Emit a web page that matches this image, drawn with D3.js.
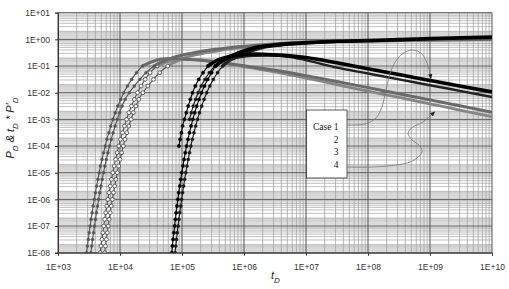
<!DOCTYPE html>
<html>
<head>
<meta charset="utf-8">
<style>
  body { margin: 0; background: #fff; }
  text { font-family: Arial, "Liberation Sans", sans-serif; }
</style>
<title>PD and derivative, cases 1-4</title>
</head>
<body>
<script src="https://cdn.jsdelivr.net/npm/d3@7/dist/d3.min.js"></script>
<script>
// ---- data: [tD, value] ----
var case1Deriv = [[2.88e3,1e-8],[2.98e3,1.78e-8],[3.08e3,3.16e-8],[3.18e3,5.62e-8],[3.30e3,1e-7],[3.42e3,1.78e-7],[3.55e3,3.16e-7],[3.69e3,5.62e-7],[3.85e3,1e-6],[4.01e3,1.78e-6],[4.20e3,3.16e-6],[4.40e3,5.62e-6],[4.61e3,1e-5],[4.85e3,1.78e-5],[5.13e3,3.16e-5],[5.43e3,5.62e-5],[5.77e3,1e-4],[6.15e3,1.78e-4],[6.59e3,3.16e-4],[7.10e3,5.62e-4],[7.69e3,1e-3],[8.39e3,1.78e-3],[9.23e3,3.16e-3],[1.03e4,5.62e-3],[1.15e4,0.01],[1.32e4,0.0178],[1.54e4,0.0316],[1.85e4,0.0562],[2.31e4,0.1],[3.16e4,0.141],[4.47e4,0.178],[7.08e4,0.191],[1.12e5,0.182],[2.0e5,0.166],[3.55e5,0.141],[1e6,0.102],[3.16e6,0.0692],[1e7,0.0437],[3.16e7,0.0263],[1e8,0.0155],[3.16e8,0.00912],[1e9,0.00537],[3.16e9,0.00316],[1e10,0.00186]];
var case1PD = [[3.39e3,1e-8],[3.50e3,1.78e-8],[3.61e3,3.16e-8],[3.74e3,5.62e-8],[3.87e3,1e-7],[4.02e3,1.78e-7],[4.17e3,3.16e-7],[4.34e3,5.62e-7],[4.52e3,1e-6],[4.71e3,1.78e-6],[4.93e3,3.16e-6],[5.16e3,5.62e-6],[5.42e3,1e-5],[5.70e3,1.78e-5],[6.03e3,3.16e-5],[6.38e3,5.62e-5],[6.78e3,1e-4],[7.23e3,1.78e-4],[7.74e3,3.16e-4],[8.34e3,5.62e-4],[9.04e3,1e-3],[9.86e3,1.78e-3],[1.08e4,3.16e-3],[1.21e4,5.62e-3],[1.41e4,0.01],[1.70e4,0.0178],[2.09e4,0.0316],[2.63e4,0.0562],[3.55e4,0.1],[5.25e4,0.158],[7.94e4,0.224],[1.58e5,0.316],[2.82e5,0.398],[6.31e5,0.501],[2.0e6,0.631],[1e7,0.776],[3.16e7,0.832],[1e8,0.871],[3.16e8,0.912],[1e9,0.944],[3.16e9,0.977],[1e10,1.01]];
var case2Deriv = [[4.79e3,1e-8],[4.94e3,1.78e-8],[5.11e3,3.16e-8],[5.28e3,5.62e-8],[5.47e3,1e-7],[5.67e3,1.78e-7],[5.89e3,3.16e-7],[6.12e3,5.62e-7],[6.38e3,1e-6],[6.65e3,1.78e-6],[6.97e3,3.16e-6],[7.29e3,5.62e-6],[7.66e3,1e-5],[8.05e3,1.78e-5],[8.51e3,3.16e-5],[9.02e3,5.62e-5],[9.57e3,1e-4],[1.021e4,1.78e-4],[1.094e4,3.16e-4],[1.178e4,5.62e-4],[1.276e4,1e-3],[1.393e4,1.78e-3],[1.531e4,3.16e-3],[1.702e4,5.62e-3],[1.914e4,0.01],[2.188e4,0.0178],[2.553e4,0.0316],[3.06e4,0.0562],[3.98e4,0.1],[5.62e4,0.141],[8.91e4,0.170],[1.26e5,0.178],[2.0e5,0.170],[3.55e5,0.148],[1e6,0.0955],[3.16e6,0.0603],[1e7,0.0355],[3.16e7,0.0200],[1e8,0.0115],[3.16e8,0.00661],[1e9,0.00380],[3.16e9,0.00219],[1e10,0.00126]];
var case2PD = [[5.65e3,1e-8],[5.83e3,1.78e-8],[6.03e3,3.16e-8],[6.24e3,5.62e-8],[6.46e3,1e-7],[6.70e3,1.78e-7],[6.95e3,3.16e-7],[7.23e3,5.62e-7],[7.53e3,1e-6],[7.85e3,1.78e-6],[8.22e3,3.16e-6],[8.61e3,5.62e-6],[9.04e3,1e-5],[9.51e3,1.78e-5],[1.005e4,3.16e-5],[1.064e4,5.62e-5],[1.13e4,1e-4],[1.205e4,1.78e-4],[1.29e4,3.16e-4],[1.39e4,5.62e-4],[1.51e4,1e-3],[1.64e4,1.78e-3],[1.81e4,3.16e-3],[2.01e4,5.62e-3],[2.34e4,0.01],[2.82e4,0.0178],[3.47e4,0.0316],[4.37e4,0.0562],[5.89e4,0.1],[8.51e4,0.158],[1.26e5,0.224],[2.51e5,0.316],[4.47e5,0.398],[1e6,0.501],[3.16e6,0.631],[1e7,0.741],[3.16e7,0.804],[1e8,0.851],[3.16e8,0.891],[1e9,0.923],[3.16e9,0.955],[1e10,0.98]];
var case3PD = [[6.82e4,1e-8],[7.00e4,1.78e-8],[7.18e4,3.16e-8],[7.38e4,5.62e-8],[7.59e4,1e-7],[7.81e4,1.78e-7],[8.05e4,3.16e-7],[8.30e4,5.62e-7],[8.57e4,1e-6],[8.87e4,1.78e-6],[9.20e4,3.16e-6],[9.55e4,5.62e-6],[9.93e4,1e-5],[1.035e5,1.78e-5],[1.080e5,3.16e-5],[1.130e5,5.62e-5],[1.186e5,1e-4],[1.250e5,1.78e-4],[1.321e5,3.16e-4],[1.402e5,5.62e-4],[1.493e5,1e-3],[1.603e5,1.78e-3],[1.728e5,3.16e-3],[1.879e5,5.62e-3],[2.065e5,0.01],[2.301e5,0.0178],[2.600e5,0.0316],[3.01e5,0.0562],[3.47e5,0.1],[4.47e5,0.158],[5.89e5,0.224],[8.32e5,0.316],[1.10e6,0.398],[1.58e6,0.501],[2.82e6,0.603],[6.31e6,0.708],[1.58e7,0.794],[3.16e7,0.851],[1e8,0.912],[3.16e8,0.977],[1e9,1.072],[3.16e9,1.148],[1e10,1.230]];
var case4PD = [[7.71e4,1e-8],[7.93e4,1.78e-8],[8.15e4,3.16e-8],[8.39e4,5.62e-8],[8.65e4,1e-7],[8.91e4,1.78e-7],[9.20e4,3.16e-7],[9.53e4,5.62e-7],[9.86e4,1e-6],[1.021e5,1.78e-6],[1.062e5,3.16e-6],[1.104e5,5.62e-6],[1.151e5,1e-5],[1.202e5,1.78e-5],[1.259e5,3.16e-5],[1.321e5,5.62e-5],[1.390e5,1e-4],[1.469e5,1.78e-4],[1.560e5,3.16e-4],[1.660e5,5.62e-4],[1.778e5,1e-3],[1.914e5,1.78e-3],[2.075e5,3.16e-3],[2.270e5,5.62e-3],[2.506e5,0.01],[2.805e5,0.0178],[3.20e5,0.0316],[3.74e5,0.0562],[4.52e5,0.1],[5.75e5,0.158],[7.94e5,0.224],[1.12e6,0.316],[1.48e6,0.398],[2.14e6,0.501],[3.80e6,0.603],[8.91e6,0.708],[1.78e7,0.776],[3.16e7,0.832],[1e8,0.891],[3.16e8,0.944],[1e9,1.023],[3.16e9,1.096],[1e10,1.16]];
var case3Deriv = [[8.91e4,1e-4],[9.33e4,1.78e-4],[9.77e4,3.16e-4],[1.023e5,5.62e-4],[1.096e5,1e-3],[1.175e5,1.78e-3],[1.259e5,3.16e-3],[1.365e5,5.62e-3],[1.479e5,0.01],[1.641e5,0.0178],[1.862e5,0.0316],[2.188e5,0.0562],[2.630e5,0.1],[3.55e5,0.158],[5.62e5,0.224],[1e6,0.269],[1.58e6,0.282],[3.16e6,0.263],[1e7,0.209],[3.16e7,0.132],[1e8,0.0794],[3.16e8,0.0479],[1e9,0.0288],[3.16e9,0.0174],[1e10,0.0107]];
var case4Deriv = [[1.318e5,1e-3],[1.413e5,1.78e-3],[1.514e5,3.16e-3],[1.660e5,5.62e-3],[1.820e5,0.01],[2.042e5,0.0178],[2.344e5,0.0316],[2.754e5,0.0562],[3.388e5,0.1],[4.68e5,0.158],[7.94e5,0.209],[1.41e6,0.240],[2.51e6,0.245],[5.62e6,0.219],[1e7,0.166],[3.16e7,0.0871],[1e8,0.0525],[3.16e8,0.0316],[1e9,0.0191],[3.16e9,0.0115],[1e10,0.00692]];

// leader lines from the legend box to the curves, in [tD, value]
var leader1 = [[4.58e7,6.15e-4],[8.95e7,6.71e-4],[1.35e8,1.13e-3],[1.68e8,2.91e-3],[1.95e8,1.26e-2],[2.44e8,8.45e-2],[3.53e8,0.282],[5.32e8,0.399],[7.43e8,0.282],[9.29e8,0.100],[1.04e9,0.0327]];
var leader2 = [[4.58e7,1.64e-5],[1.21e8,1.64e-5],[4.26e8,2.31e-5],[6.17e8,3.56e-5],[7.43e8,5.98e-5],[6.90e8,1.0e-4],[5.13e8,1.69e-4],[4.42e8,3.08e-4],[5.32e8,5.18e-4],[7.71e8,7.98e-4],[1.0e9,1.34e-3],[1.21e9,1.97e-3]];

var xTicks = [1e3,1e4,1e5,1e6,1e7,1e8,1e9,1e10];
var xTickLabels = ["1E+03","1E+04","1E+05","1E+06","1E+07","1E+08","1E+09","1E+10"];
var yTicks = [1e-8,1e-7,1e-6,1e-5,1e-4,1e-3,1e-2,1e-1,1,10];
var yTickLabels = ["1E-08","1E-07","1E-06","1E-05","1E-04","1E-03","1E-02","1E-01","1E+00","1E+01"];
var legendLabels = ["Case 1","2","3","4"];

// ---- layout ----
var w = 509, h = 289;
var margin = {top: 12.7, right: 17, bottom: 36.3, left: 58};

var x = d3.scaleLog().domain([1e3, 1e10]).range([margin.left, w - margin.right]);
var y = d3.scaleLog().domain([1e-8, 10]).range([h - margin.bottom, margin.top]);

var svg = d3.select("body").append("svg")
    .attr("width", w).attr("height", h);

svg.append("defs").append("clipPath").attr("id", "plot")
  .append("rect")
    .attr("x", margin.left).attr("y", margin.top)
    .attr("width", w - margin.left - margin.right)
    .attr("height", h - margin.top - margin.bottom);

var arrow = svg.select("defs").append("marker")
    .attr("id", "arrow")
    .attr("markerUnits", "userSpaceOnUse")
    .attr("markerWidth", 6).attr("markerHeight", 6)
    .attr("refX", 5).attr("refY", 3)
    .attr("orient", "auto");
arrow.append("path").attr("d", "M0,0.8 L5,3 L0,5.2 z").attr("fill", "#222");

// grid
var grid = svg.append("g").attr("id", "grid");
var x0 = margin.left, x1 = w - margin.right, y0 = h - margin.bottom, y1 = margin.top;

// horizontal: 1.1..1.9 and 2..9 in every decade
for (var e = -8; e < 1; e++) {
  var base = Math.pow(10, e);
  [1.1,1.2,1.3,1.4,1.5,1.6,1.7,1.8,1.9].forEach(function(k) {
    grid.append("line").attr("x1", x0).attr("x2", x1)
      .attr("y1", y(k * base)).attr("y2", y(k * base))
      .attr("stroke", "#c6c6c6").attr("stroke-width", 0.7);
  });
  [2,3,4,5,6,7,8,9].forEach(function(k) {
    grid.append("line").attr("x1", x0).attr("x2", x1)
      .attr("y1", y(k * base)).attr("y2", y(k * base))
      .attr("stroke", "#aaa").attr("stroke-width", 0.75);
  });
}
// vertical: 2..9 in every decade
for (var e2 = 3; e2 < 10; e2++) {
  var b2 = Math.pow(10, e2);
  [2,3,4,5,6,7,8,9].forEach(function(k) {
    grid.append("line").attr("y1", y0).attr("y2", y1)
      .attr("x1", x(k * b2)).attr("x2", x(k * b2))
      .attr("stroke", "#a4a4a4").attr("stroke-width", 0.8);
  });
}
// major lines
yTicks.forEach(function(v) {
  grid.append("line").attr("x1", x0).attr("x2", x1)
    .attr("y1", y(v)).attr("y2", y(v))
    .attr("stroke", "#555").attr("stroke-width", 1);
});
xTicks.forEach(function(v) {
  grid.append("line").attr("y1", y0).attr("y2", y1)
    .attr("x1", x(v)).attr("x2", x(v))
    .attr("stroke", "#555").attr("stroke-width", 1);
});

// series
var series = [
  {data: case2Deriv, color: "#505050", open: true,  r: 1.9, band: 2.8, bandColor: "#858585"},
  {data: case2PD,    color: "#505050", open: true,  r: 1.9, band: 2.8, bandColor: "#858585"},
  {data: case1Deriv, color: "#555",    open: false, r: 1.5, band: 3,   bandColor: "#6a6a6a"},
  {data: case1PD,    color: "#555",    open: false, r: 1.5, band: 3,   bandColor: "#6a6a6a"},
  {data: case4Deriv, color: "#1a1a1a", open: false, r: 1.6, band: 2.4, bandColor: "#222"},
  {data: case4PD,    color: "#1a1a1a", open: false, r: 1.6, band: 3,   bandColor: "#222"},
  {data: case3Deriv, color: "#000",    open: false, r: 1.7, band: 3.6, bandColor: "#000"},
  {data: case3PD,    color: "#000",    open: false, r: 1.7, band: 3.6, bandColor: "#000"}
];

var line = d3.line()
    .x(function(d) { return x(d[0]); })
    .y(function(d) { return y(d[1]); })
    .curve(d3.curveMonotoneX);

var curves = svg.append("g").attr("clip-path", "url(#plot)");

series.forEach(function(s) {
  var g = curves.append("g");
  g.append("path").attr("d", line(s.data))
    .attr("fill", "none").attr("stroke", s.color).attr("stroke-width", 1.1);
  // the flat part of each curve is drawn as a thick band
  var start = s.data.findIndex(function(d) { return d[1] >= 0.1; });
  g.append("path").attr("d", line(s.data.slice(start)))
    .attr("fill", "none").attr("stroke", s.bandColor).attr("stroke-width", s.band);
  g.selectAll("circle").data(s.data.slice(0, start + 1)).enter().append("circle")
    .attr("cx", function(d) { return x(d[0]); })
    .attr("cy", function(d) { return y(d[1]); })
    .attr("r", s.r)
    .attr("fill", s.open ? "#fff" : s.color)
    .attr("stroke", s.color)
    .attr("stroke-width", s.open ? 0.9 : 0.4);
});

// axes
var xAxis = d3.axisBottom(x).tickValues(xTicks)
    .tickFormat(function(d, i) { return xTickLabels[i]; })
    .tickSize(3).tickPadding(8);
var gx = svg.append("g").attr("transform", "translate(0," + y0 + ")").call(xAxis);

var yAxis = d3.axisLeft(y).tickValues(yTicks)
    .tickFormat(function(d, i) { return yTickLabels[i]; })
    .tickSize(3).tickPadding(5);
var gy = svg.append("g").attr("transform", "translate(" + x0 + ",0)").call(yAxis);

[gx, gy].forEach(function(g) {
  g.select(".domain").attr("stroke", "#333");
  g.selectAll(".tick line").attr("stroke", "#333");
  g.selectAll(".tick text").attr("fill", "#333")
    .style("font-family", "Arial, 'Liberation Sans', sans-serif").style("font-size", "8.5px");
});

// axis titles
var xt = svg.append("text").attr("x", 271).attr("y", 279)
    .style("font-style", "italic").style("font-size", "11px").attr("fill", "#222");
xt.append("tspan").text("t");
xt.append("tspan").attr("dy", 4).style("font-size", "8px").text("D");

var yt = svg.append("text")
    .attr("transform", "translate(14,128) rotate(-90)")
    .attr("text-anchor", "middle")
    .style("font-style", "italic").style("font-size", "11px").attr("fill", "#222");
yt.append("tspan").text("P");
yt.append("tspan").attr("dy", 3.5).style("font-size", "8px").text("D");
yt.append("tspan").attr("dy", -3.5).text(" & t");
yt.append("tspan").attr("dy", 3.5).style("font-size", "8px").text("D");
yt.append("tspan").attr("dy", -3.5).text(" * P'");
yt.append("tspan").attr("dy", 3.5).style("font-size", "8px").text("D");

// legend box
svg.append("rect")
    .attr("x", 306.5).attr("y", 110).attr("width", 40.5).attr("height", 68)
    .attr("fill", "#fff").attr("stroke", "#333").attr("stroke-width", 0.8);

svg.selectAll(".leg").data(legendLabels).enter().append("text")
    .attr("class", "leg")
    .attr("x", 338.5)
    .attr("y", function(d, i) { return 130 + i * 12.7; })
    .attr("text-anchor", "end")
    .style("font-family", "'Liberation Serif', 'Times New Roman', serif")
    .style("font-size", "9.5px")
    .attr("fill", "#111")
    .text(function(d) { return d; });

// leader lines
var leaderLine = d3.line()
    .x(function(d) { return x(d[0]); })
    .y(function(d) { return y(d[1]); })
    .curve(d3.curveCatmullRom);

[leader1, leader2].forEach(function(l) {
  svg.append("path").attr("d", leaderLine(l))
    .attr("fill", "none").attr("stroke", "#777").attr("stroke-width", 0.8)
    .attr("marker-end", "url(#arrow)");
});
</script>
</body>
</html>
